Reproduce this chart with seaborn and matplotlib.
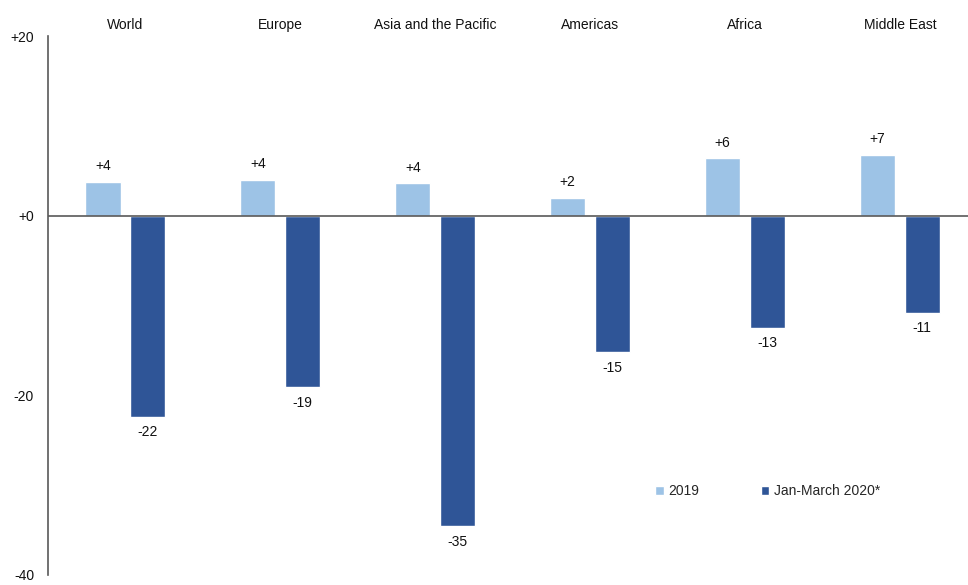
import pandas as pd
import numpy as np
import matplotlib
matplotlib.use("Agg")
import matplotlib.pyplot as plt
import seaborn as sns

# data
regions = ['World', 'Europe', 'Asia and the Pacific', 'Americas', 'Africa', 'Middle East']
vals_2019 = [3.8, 4.0, 3.6, 2.0, 6.4, 6.8]
vals_2020 = [-22.4, -19.1, -34.6, -15.2, -12.5, -10.8]
labels_2019 = ['+4', '+4', '+4', '+2', '+6', '+7']
labels_2020 = ['-22', '-19', '-35', '-15', '-13', '-11']
series = ['2019', 'Jan-March 2020*']
colors = ['#9DC3E6', '#2F5597']
yticks = [20, 0, -20, -40]
ytick_labels = ['+20', '+0', '-20', '-40']

sns.set_style('white')
plt.rcParams['font.family'] = ['Liberation Sans', 'DejaVu Sans']

df = pd.DataFrame({
    'region': regions * 2,
    'series': [series[0]] * len(regions) + [series[1]] * len(regions),
    'value': vals_2019 + vals_2020,
})

fig = plt.figure(figsize=(9.68, 5.85), dpi=100)
ax = fig.add_axes([0.0496, 10 / 585, 0.96, 539 / 585])

sns.barplot(data=df, x='region', y='value', hue='series', palette=colors,
            saturation=1, width=0.58, gap=0.22, ax=ax, legend=True)

ax.set_ylim(-40, 20)
ax.set_xlim(-0.5, len(regions) - 0.5)
ax.set_yticks(yticks)
ax.set_yticklabels(ytick_labels, fontsize=10, color='#111111')
ax.tick_params(axis='y', length=0, pad=10)
ax.xaxis.set_ticks_position('top')
ax.tick_params(axis='x', length=0, labelsize=10, pad=3, labelcolor='#111111')
ax.set_xlabel('')
ax.set_ylabel('')

for s in ['top', 'right', 'bottom']:
    ax.spines[s].set_visible(False)
ax.spines['left'].set_color('#595959')
ax.spines['left'].set_linewidth(1.2)
ax.axhline(0, color='#595959', lw=1.2, zorder=3)

# value labels
for cont, labs in zip(ax.containers, [labels_2019, labels_2020]):
    for bar, lab in zip(cont, labs):
        h = bar.get_height()
        x = bar.get_x() + bar.get_width() / 2
        if h >= 0:
            ax.annotate(lab, (x, h), xytext=(0, 6), textcoords='offset points',
                        ha='center', va='bottom', fontsize=10, color='#111111')
        else:
            ax.annotate(lab, (x, h), xytext=(0, -6), textcoords='offset points',
                        ha='center', va='top', fontsize=10, color='#111111')

leg = ax.legend(loc='center left', bbox_to_anchor=(0.64, 0.155), ncol=2, frameon=False,
                fontsize=10, handlelength=0.6, handleheight=0.6, handletextpad=0.3,
                columnspacing=4.5)

fig.savefig('out.png', dpi=100)
